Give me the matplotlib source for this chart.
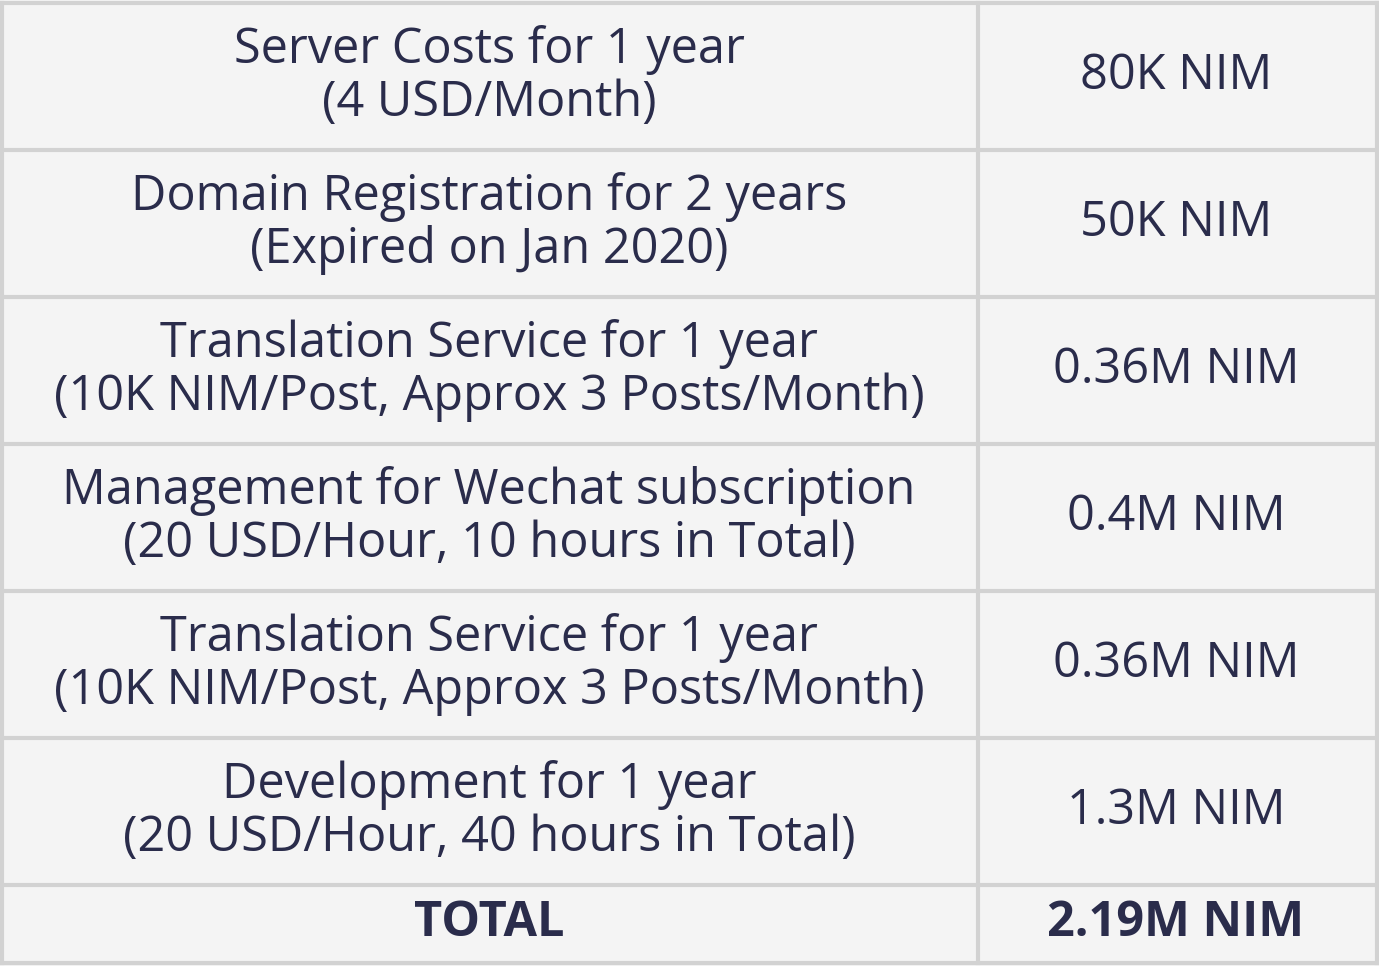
import matplotlib
matplotlib.use("Agg")
import matplotlib.pyplot as plt

items = [
    "Server Costs for 1 year\n(4 USD/Month)",
    "Domain Registration for 2 years\n(Expired on Jan 2020)",
    "Translation Service for 1 year\n(10K NIM/Post, Approx 3 Posts/Month)",
    "Management for Wechat subscription\n(20 USD/Hour, 10 hours in Total)",
    "Translation Service for 1 year\n(10K NIM/Post, Approx 3 Posts/Month)",
    "Development for 1 year\n(20 USD/Hour, 40 hours in Total)",
]
costs = ["80K NIM", "50K NIM", "0.36M NIM", "0.4M NIM", "0.36M NIM", "1.3M NIM"]
total_label = "TOTAL"
total_value = "2.19M NIM"

text_color = "#2a2c4b"
line_color = "#d2d2d2"

fig = plt.figure(figsize=(13.79, 9.66), dpi=100)
fig.patch.set_facecolor("#f4f4f4")
ax = fig.add_axes([0, 0, 1, 1])
ax.set_xlim(0, 1379)
ax.set_ylim(966, 0)
ax.axis("off")

row_h = 147
top = 3
split = 978
bottom = 963

# grid lines
for i in range(len(items) + 1):
    ax.plot([0, 1379], [top + i * row_h] * 2, color=line_color, lw=3)
ax.plot([0, 1379], [bottom, bottom], color=line_color, lw=3)
ax.plot([split, split], [top, bottom], color=line_color, lw=3)
ax.plot([1.5, 1.5], [top, bottom], color=line_color, lw=3)
ax.plot([1377, 1377], [top, bottom], color=line_color, lw=3)

font = dict(family=["Open Sans", "DejaVu Sans"], color=text_color, ha="center", va="center")
fs = 35
for i, (item, cost) in enumerate(zip(items, costs)):
    yc = top + i * row_h + row_h / 2
    ax.text(489, yc, item, fontsize=fs, linespacing=1.08, **font)
    ax.text(1176, yc, cost, fontsize=fs, **font)

yt = top + len(items) * row_h + (bottom - top - len(items) * row_h) / 2
ax.text(489, yt, total_label, fontsize=fs, fontweight="bold", **font)
ax.text(1176, yt, total_value, fontsize=fs, fontweight="bold", **font)

fig.savefig("out.png", dpi=100, facecolor=fig.get_facecolor())
